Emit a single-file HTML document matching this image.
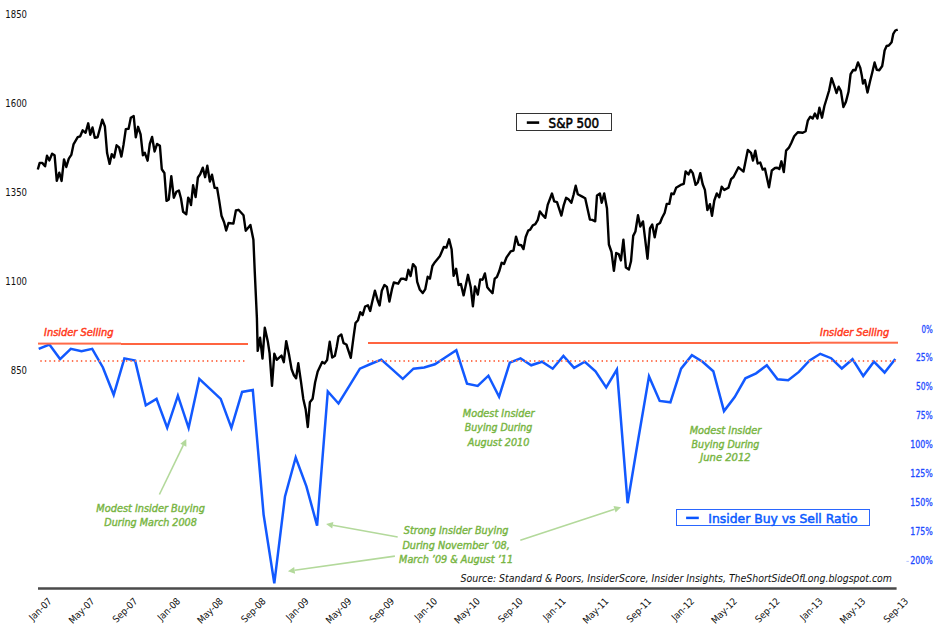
<!DOCTYPE html>
<html><head><meta charset="utf-8"><title>S&amp;P 500 vs Insider Buy/Sell Ratio</title>
<style>html,body{margin:0;padding:0;background:#fff;}svg{display:block;}</style></head>
<body>
<svg width="943" height="632" viewBox="0 0 943 632">
<rect x="0" y="0" width="943" height="632" fill="#fff"/>

<g font-family='"DejaVu Sans Condensed","DejaVu Sans",sans-serif' font-size="11" fill="#111" text-anchor="end">
<text x="27" y="18" textLength="21.7" lengthAdjust="spacingAndGlyphs">1850</text>
<text x="27" y="107" textLength="21.7" lengthAdjust="spacingAndGlyphs">1600</text>
<text x="27" y="196" textLength="21.7" lengthAdjust="spacingAndGlyphs">1350</text>
<text x="27" y="285" textLength="21.7" lengthAdjust="spacingAndGlyphs">1100</text>
<text x="27" y="374" textLength="16.2" lengthAdjust="spacingAndGlyphs">850</text>
</g>
<g font-family='"DejaVu Sans Condensed","DejaVu Sans",sans-serif' font-size="10.5" fill="#1f4cff" stroke="#1f4cff" stroke-width="0.3" text-anchor="end">
<text x="932.8" y="332.5" textLength="11.3" lengthAdjust="spacingAndGlyphs">0%</text>
<text x="932.8" y="361.4" textLength="16.8" lengthAdjust="spacingAndGlyphs">25%</text>
<text x="932.8" y="390.3" textLength="16.8" lengthAdjust="spacingAndGlyphs">50%</text>
<text x="932.8" y="419.2" textLength="16.8" lengthAdjust="spacingAndGlyphs">75%</text>
<text x="932.8" y="448.1" textLength="22.6" lengthAdjust="spacingAndGlyphs">100%</text>
<text x="932.8" y="477.0" textLength="22.6" lengthAdjust="spacingAndGlyphs">125%</text>
<text x="932.8" y="505.9" textLength="22.6" lengthAdjust="spacingAndGlyphs">150%</text>
<text x="932.8" y="534.8" textLength="22.6" lengthAdjust="spacingAndGlyphs">175%</text>
<text x="932.8" y="563.7" textLength="22.6" lengthAdjust="spacingAndGlyphs">200%</text>
</g>
<rect x="906.4" y="560.9" width="2.5" height="1" fill="#b4c4ff"/>
<polyline points="38.7,348.9 49.4,344.5 60.1,359.1 70.8,348.9 81.5,351.3 92.2,348.9 102.9,367.5 113.7,394.8 124.4,358.4 135.1,360.6 145.8,405.3 156.5,398.9 167.2,427.8 177.9,395.7 188.6,427.8 199.3,378.8 210.0,388.8 220.7,398.9 231.4,427.9 242.1,391.9 252.8,389.9 263.6,514.6 274.3,583.3 285.0,496.4 295.7,457.5 306.4,486.3 317.1,525.6 327.8,391.5 338.5,403.5 349.2,386.1 359.9,368.7 370.6,364.0 381.3,359.6 392.0,369.1 402.8,378.9 413.5,368.7 424.2,367.5 434.9,364.3 445.6,357.2 456.3,350.3 467.0,383.7 477.7,385.9 488.4,375.7 499.1,396.7 509.8,362.7 520.5,358.3 531.2,365.3 542.0,361.7 552.7,368.7 563.4,356.0 574.1,367.8 584.8,361.7 595.5,371.3 606.2,387.4 616.9,369.6 627.6,503.2 638.3,439.0 649.0,376.4 659.7,400.9 670.4,402.3 681.1,368.7 691.9,355.1 702.6,361.7 713.3,371.3 724.0,411.1 734.7,397.1 745.4,378.3 756.1,373.3 766.8,365.3 777.5,379.3 788.2,380.2 798.9,371.9 809.6,360.5 820.3,353.8 831.1,358.2 841.8,368.5 852.5,359.2 863.2,376.0 873.9,361.7 884.6,372.5 895.3,358.9" fill="none" stroke="#1259ff" stroke-width="2.5" stroke-linejoin="miter" stroke-miterlimit="4"/>
<rect x="38" y="342.6" width="83" height="2" fill="#ff6a48"/>
<rect x="121" y="343" width="127" height="2" fill="#ff6440"/>
<rect x="368" y="342" width="442" height="2" fill="#ff6440"/>
<rect x="810" y="341.7" width="88" height="2" fill="#ff6a48"/>
<line x1="40.33" y1="361" x2="244.6" y2="361" stroke="#ff7656" stroke-width="1.9" stroke-dasharray="1.4 3.104"/>
<line x1="367.44" y1="361" x2="895.8" y2="361" stroke="#ff7656" stroke-width="1.9" stroke-dasharray="1.4 3.103"/>
<g font-family='"DejaVu Sans Condensed","DejaVu Sans",sans-serif' font-size="10.5" font-style="italic" fill="#ff3c1e" stroke="#ff3c1e" stroke-width="0.45">
<text x="44" y="335.7" textLength="69.5" lengthAdjust="spacingAndGlyphs">Insider Selling</text>
<text x="820" y="335.7" textLength="69.2" lengthAdjust="spacingAndGlyphs">Insider Selling</text>
</g>
<line x1="38" y1="588.5" x2="896.6" y2="588.5" stroke="#4a4a4a" stroke-width="2.4"/>
<g font-family='"DejaVu Sans Condensed","DejaVu Sans",sans-serif' font-size="9.6" fill="#111" text-anchor="end">
<text transform="translate(52.4,601.8) rotate(-45)">Jan-07</text>
<text transform="translate(95.2,601.8) rotate(-45)">May-07</text>
<text transform="translate(138.1,601.8) rotate(-45)">Sep-07</text>
<text transform="translate(180.9,601.8) rotate(-45)">Jan-08</text>
<text transform="translate(223.7,601.8) rotate(-45)">May-08</text>
<text transform="translate(266.5,601.8) rotate(-45)">Sep-08</text>
<text transform="translate(309.4,601.8) rotate(-45)">Jan-09</text>
<text transform="translate(352.2,601.8) rotate(-45)">May-09</text>
<text transform="translate(395.0,601.8) rotate(-45)">Sep-09</text>
<text transform="translate(437.9,601.8) rotate(-45)">Jan-10</text>
<text transform="translate(480.7,601.8) rotate(-45)">May-10</text>
<text transform="translate(523.5,601.8) rotate(-45)">Sep-10</text>
<text transform="translate(566.4,601.8) rotate(-45)">Jan-11</text>
<text transform="translate(609.2,601.8) rotate(-45)">May-11</text>
<text transform="translate(652.0,601.8) rotate(-45)">Sep-11</text>
<text transform="translate(694.9,601.8) rotate(-45)">Jan-12</text>
<text transform="translate(737.7,601.8) rotate(-45)">May-12</text>
<text transform="translate(780.5,601.8) rotate(-45)">Sep-12</text>
<text transform="translate(823.3,601.8) rotate(-45)">Jan-13</text>
<text transform="translate(866.2,601.8) rotate(-45)">May-13</text>
<text transform="translate(909.0,601.8) rotate(-45)">Sep-13</text>
</g>
<g stroke="#b3d99b" stroke-width="1.6" fill="none">
<line x1="159.4" y1="494.5" x2="183.3" y2="445.2"/>
<line x1="397.7" y1="537" x2="332.8" y2="525.2"/>
<line x1="394.9" y1="556.1" x2="294.6" y2="570.3"/>
<line x1="520.3" y1="540.3" x2="614.5" y2="509.3"/>
</g>
<g fill="#b3d99b"><polygon points="186.3,439.1 186.4,446.7 180.3,443.7"/><polygon points="326.1,524 333.4,521.9 332.2,528.6"/><polygon points="287.9,571.3 294.2,567.0 295.1,573.7"/><polygon points="621,507.2 615.6,512.6 613.5,506.1"/></g>
<g font-family="DejaVu Sans,sans-serif" font-size="9.7" font-style="italic" fill="#78b543" stroke="#78b543" stroke-width="0.4" text-anchor="middle">
<text x="150.6" y="511.7" textLength="108.6" lengthAdjust="spacingAndGlyphs">Modest Insider Buying</text>
<text x="150.6" y="525.5" textLength="92.5" lengthAdjust="spacingAndGlyphs">During March 2008</text>
<text x="456.1" y="534" textLength="104.7" lengthAdjust="spacingAndGlyphs">Strong Insider Buying</text>
<text x="456.1" y="548.8" textLength="107.4" lengthAdjust="spacingAndGlyphs">During November &#8217;08,</text>
<text x="456.1" y="562.5" textLength="114" lengthAdjust="spacingAndGlyphs">March &#8217;09 &amp; August &#8217;11</text>
<text x="498.6" y="416.8" textLength="71.7" lengthAdjust="spacingAndGlyphs">Modest Insider</text>
<text x="498.6" y="431.2" textLength="67.5" lengthAdjust="spacingAndGlyphs">Buying During</text>
<text x="498.6" y="445.5" textLength="61.7" lengthAdjust="spacingAndGlyphs">August 2010</text>
<text x="725.5" y="433.8" textLength="71.7" lengthAdjust="spacingAndGlyphs">Modest Insider</text>
<text x="725.5" y="447.5" textLength="67.8" lengthAdjust="spacingAndGlyphs">Buying During</text>
<text x="725.5" y="461.4" textLength="50.5" lengthAdjust="spacingAndGlyphs">June 2012</text>
</g>
<text x="460.5" y="581.7" font-family='"DejaVu Sans Condensed","DejaVu Sans",sans-serif' font-size="10" font-style="italic" fill="#111" textLength="431.5" lengthAdjust="spacingAndGlyphs">Source: Standard &amp; Poors, InsiderScore, Insider Insights, TheShortSideOfLong.blogspot.com</text>
<rect x="516.5" y="113.5" width="95" height="17" fill="#fff" stroke="#333" stroke-width="1"/>
<line x1="526.8" y1="122.6" x2="539.2" y2="122.6" stroke="#000" stroke-width="2.6"/>
<text x="548.6" y="128.3" font-family="DejaVu Sans,sans-serif" font-size="13.2" fill="#000" stroke="#000" stroke-width="0.55" textLength="50.6" lengthAdjust="spacingAndGlyphs">S&amp;P 500</text>
<rect x="676.5" y="509.5" width="193" height="16" fill="#fff" stroke="#2a66ff" stroke-width="1"/>
<line x1="686.1" y1="517.9" x2="698.8" y2="517.9" stroke="#0a55ff" stroke-width="2.5"/>
<text x="708.3" y="522.7" font-family="DejaVu Sans,sans-serif" font-size="13" fill="#0a5aff" stroke="#0a5aff" stroke-width="0.5" textLength="149.2" lengthAdjust="spacingAndGlyphs">Insider Buy vs Sell Ratio</text>
<polyline points="37.8,169.5 39.7,162.9 42.2,162.9 45.1,166.3 47.0,155.8 49.4,160.4 52.1,153.7 54.6,155.3 56.8,180.9 59.3,172.7 61.6,180.9 64.0,159.4 66.3,167.0 68.8,158.7 71.3,154.9 73.5,144.4 77.7,137.2 80.2,136.3 82.7,130.3 85.6,132.8 88.2,123.3 90.3,134.7 92.5,127.5 94.8,137.7 97.6,137.3 102.3,119.6 104.9,126.5 107.1,153.1 109.6,163.9 111.8,154.1 114.1,157.5 116.6,145.3 119.1,147.4 121.4,156.6 123.5,144.9 125.8,129.1 128.6,128.8 130.8,117.7 133.7,116.0 135.8,137.3 138.1,126.8 140.6,134.4 142.9,155.4 144.8,152.8 147.6,160.7 149.8,143.9 152.1,137.0 154.6,151.5 157.1,143.9 159.9,145.8 161.8,169.2 164.4,173.0 166.5,200.9 168.8,199.4 171.3,176.2 173.8,197.7 176.4,191.8 178.9,190.5 181.0,198.5 183.1,211.8 186.3,214.2 188.2,197.6 190.1,201.4 191.0,205.0 193.1,185.2 195.6,197.0 197.9,177.5 200.2,174.3 202.8,167.7 205.1,177.2 207.3,165.8 209.9,181.6 212.0,174.7 214.6,187.7 217.1,188.0 219.2,200.6 221.5,215.8 224.1,222.2 226.2,230.5 228.5,223.0 233.4,223.6 235.9,210.5 238.5,209.8 243.5,215.2 245.7,230.7 250.4,225.0 253.4,239.7 254.8,272.6 256.9,318.0 257.7,350.9 260.1,337.8 262.5,358.6 264.8,327.7 267.8,341.4 269.6,353.3 272.0,385.9 274.3,353.8 276.7,359.8 281.5,355.6 283.8,362.2 286.2,341.1 289.2,355.6 291.6,369.3 293.9,375.2 296.1,378.2 298.3,363.3 300.9,381.1 303.3,398.9 305.7,409.6 307.8,427.0 309.9,402.2 312.6,398.7 315.1,382.5 317.7,371.5 322.2,361.9 324.6,363.4 327.1,360.0 329.7,341.8 332.2,357.5 334.9,355.7 336.7,347.0 338.5,336.6 341.3,334.4 343.6,343.2 346.4,344.5 350.8,357.8 353.4,338.2 355.5,323.0 358.0,320.2 360.3,312.2 362.6,315.1 365.1,306.5 367.9,305.3 370.2,311.0 372.0,302.7 374.9,290.7 377.8,300.8 379.6,305.5 381.8,290.7 384.4,285.0 386.9,286.9 389.4,301.5 391.9,289.4 393.8,282.5 398.2,283.7 401.1,278.7 403.3,278.7 406.2,279.9 408.4,269.8 410.6,276.1 413.0,264.1 415.6,267.3 417.2,281.8 419.7,289.4 422.7,293.0 425.2,289.4 427.7,276.8 429.9,278.7 432.4,266.0 434.9,262.2 440.0,255.9 443.8,247.0 446.4,247.6 449.1,239.3 451.6,249.2 453.6,275.8 456.1,268.8 458.6,285.0 460.9,284.0 463.6,295.4 468.0,274.8 470.7,286.9 472.9,306.3 475.0,286.4 477.8,294.5 480.2,279.4 482.6,279.7 484.9,273.4 487.3,287.3 489.3,289.7 492.5,293.2 494.7,278.6 496.9,277.0 499.2,271.3 501.7,262.7 504.0,264.0 506.4,257.7 510.7,251.3 513.5,250.5 516.0,236.7 518.5,244.8 521.4,245.3 523.5,249.1 525.7,237.0 528.2,230.6 530.2,229.6 532.8,225.3 535.3,224.2 537.8,219.9 539.9,211.4 542.5,214.9 545.3,217.8 547.7,204.9 552.0,193.5 554.2,201.4 557.0,202.1 561.4,215.6 563.6,205.7 566.1,197.8 568.5,199.2 571.4,202.8 573.5,195.0 575.7,185.7 577.8,194.3 581.8,196.4 585.2,198.2 589.9,219.6 592.3,219.9 595.2,221.3 597.0,195.4 599.9,193.5 601.7,202.8 604.2,193.5 607.0,208.5 608.9,244.5 611.5,252.0 613.9,270.8 616.2,253.0 618.7,254.1 620.9,260.4 623.4,239.7 625.9,267.6 628.9,269.5 631.0,261.3 633.2,235.9 635.4,231.5 638.0,215.3 640.3,226.5 643.0,221.4 647.5,258.7 650.0,228.4 652.2,224.6 654.7,237.2 657.1,224.8 660.0,223.0 662.1,217.7 664.7,212.7 666.7,203.9 669.3,203.9 671.4,193.5 673.8,194.2 676.1,187.8 680.7,184.9 683.8,183.9 685.6,171.4 688.5,174.5 690.6,170.0 692.8,173.1 695.6,184.9 697.8,182.5 700.3,173.1 702.7,184.2 704.9,189.9 707.4,210.1 709.9,204.2 712.0,215.8 714.3,200.5 716.8,193.4 719.3,197.3 721.7,186.7 724.3,189.9 728.5,187.7 731.1,179.2 733.5,177.0 738.5,167.3 743.5,171.6 747.8,150.0 751.0,152.8 753.0,160.6 755.3,150.7 757.7,163.5 760.2,162.5 762.7,169.6 764.9,168.5 769.0,187.3 771.8,170.5 775.0,168.0 777.1,167.7 779.3,169.1 781.4,161.3 783.8,172.0 786.1,150.6 788.9,147.7 791.4,142.7 794.2,136.3 797.8,132.3 802.8,132.8 805.6,131.3 807.8,120.7 810.3,116.7 812.7,118.5 814.9,113.5 817.4,118.5 819.4,107.8 822.0,117.7 824.4,106.0 827.0,97.5 829.1,90.5 831.6,78.1 834.2,85.7 836.5,93.0 838.7,86.7 840.9,91.1 843.4,107.0 845.9,101.9 848.5,91.8 850.6,74.1 853.2,70.0 855.4,70.3 858.0,62.4 860.3,68.0 861.7,74.9 863.0,83.5 864.9,80.1 867.5,92.5 870.0,81.6 872.2,72.8 874.6,62.5 876.8,69.8 879.4,70.2 882.2,66.0 883.3,59.3 884.6,50.5 886.6,46.0 888.8,45.5 891.6,42.2 893.3,33.8 895.3,30.5 897.7,29.6" fill="none" stroke="#000" stroke-width="2.4" stroke-linejoin="round"/>
</svg>
</body></html>
